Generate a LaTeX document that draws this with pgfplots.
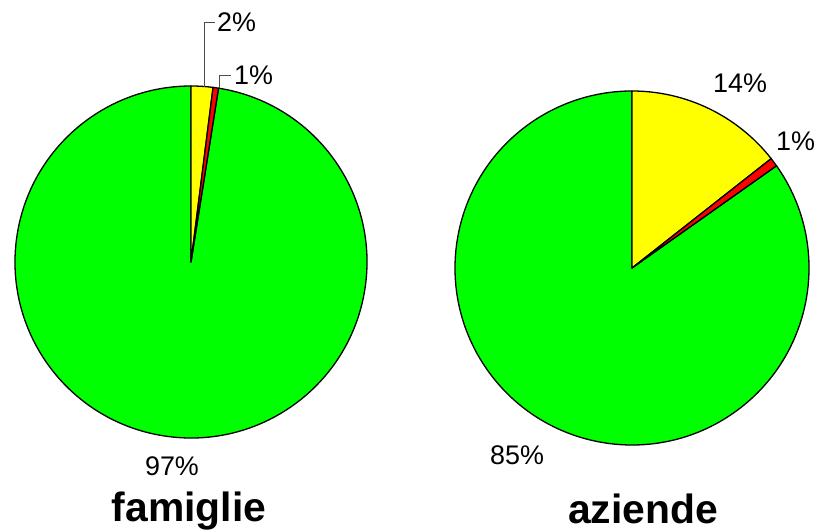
\documentclass[border=0pt]{standalone}
\usepackage{pgfplots}
\pgfplotsset{compat=1.18}
\usepackage{fontspec}
\setmainfont{Liberation Sans}
\definecolor{pieY}{HTML}{FFFF00}
\definecolor{pieR}{HTML}{FF0000}
\definecolor{pieG}{HTML}{00FF00}
% cumulative shares (percent)
% famiglie: yellow 2.0, red 0.5, green 97.5
% aziende:  yellow 14.4, red 0.8, green 84.8
\newcommand{\slice}[6]{% cx, cy, r, from%, to%, colour
  \filldraw[fill=#6, draw=black, line width=1.3bp, line join=round]
    (axis cs:#1,#2) -- ++({90-3.6*(#4)}:#3bp)
    arc[start angle={90-3.6*(#4)}, end angle={90-3.6*(#5)}, radius=#3bp] -- cycle;}
\begin{document}
\begin{tikzpicture}
\useasboundingbox (0,0) rectangle (816bp,532bp);
\begin{axis}[hide axis, scale only axis, width=816bp, height=532bp,
  xmin=0, xmax=816, ymin=0, ymax=532, clip=false, anchor=south west, at={(0,0)}]
% famiglie
\slice{191}{270}{176}{2.5}{100}{pieG}
\slice{191}{270}{176}{0}{2.0}{pieY}
\slice{191}{270}{176}{2.0}{2.5}{pieR}
% aziende
\slice{632}{264}{177}{15.2}{100}{pieG}
\slice{632}{264}{177}{0}{14.4}{pieY}
\slice{632}{264}{177}{14.4}{15.2}{pieR}
% leader lines
\draw[black!70, line width=0.8bp] (axis cs:204,445) -- (axis cs:204,510) -- (axis cs:215,510);
\draw[black!70, line width=0.8bp] (axis cs:219,444) -- (axis cs:219,457) -- (axis cs:231,457);
% labels
\begin{scope}[every node/.style={font=\fontsize{27}{30}\selectfont, inner sep=0pt}]
\node[anchor=west] at (axis cs:217,510) {2\%};
\node[anchor=west] at (axis cs:234,457) {1\%};
\node at (axis cs:740,449) {14\%};
\node[anchor=west] at (axis cs:776,391) {1\%};
\node at (axis cs:172,66) {97\%};
\node at (axis cs:517,77) {85\%};
\end{scope}
\node[font=\fontsize{41}{46}\selectfont\bfseries, inner sep=0pt] at (axis cs:189,21) {famiglie};
\node[font=\fontsize{41}{46}\selectfont\bfseries, inner sep=0pt] at (axis cs:643,23) {aziende};
\end{axis}
\end{tikzpicture}
\end{document}
